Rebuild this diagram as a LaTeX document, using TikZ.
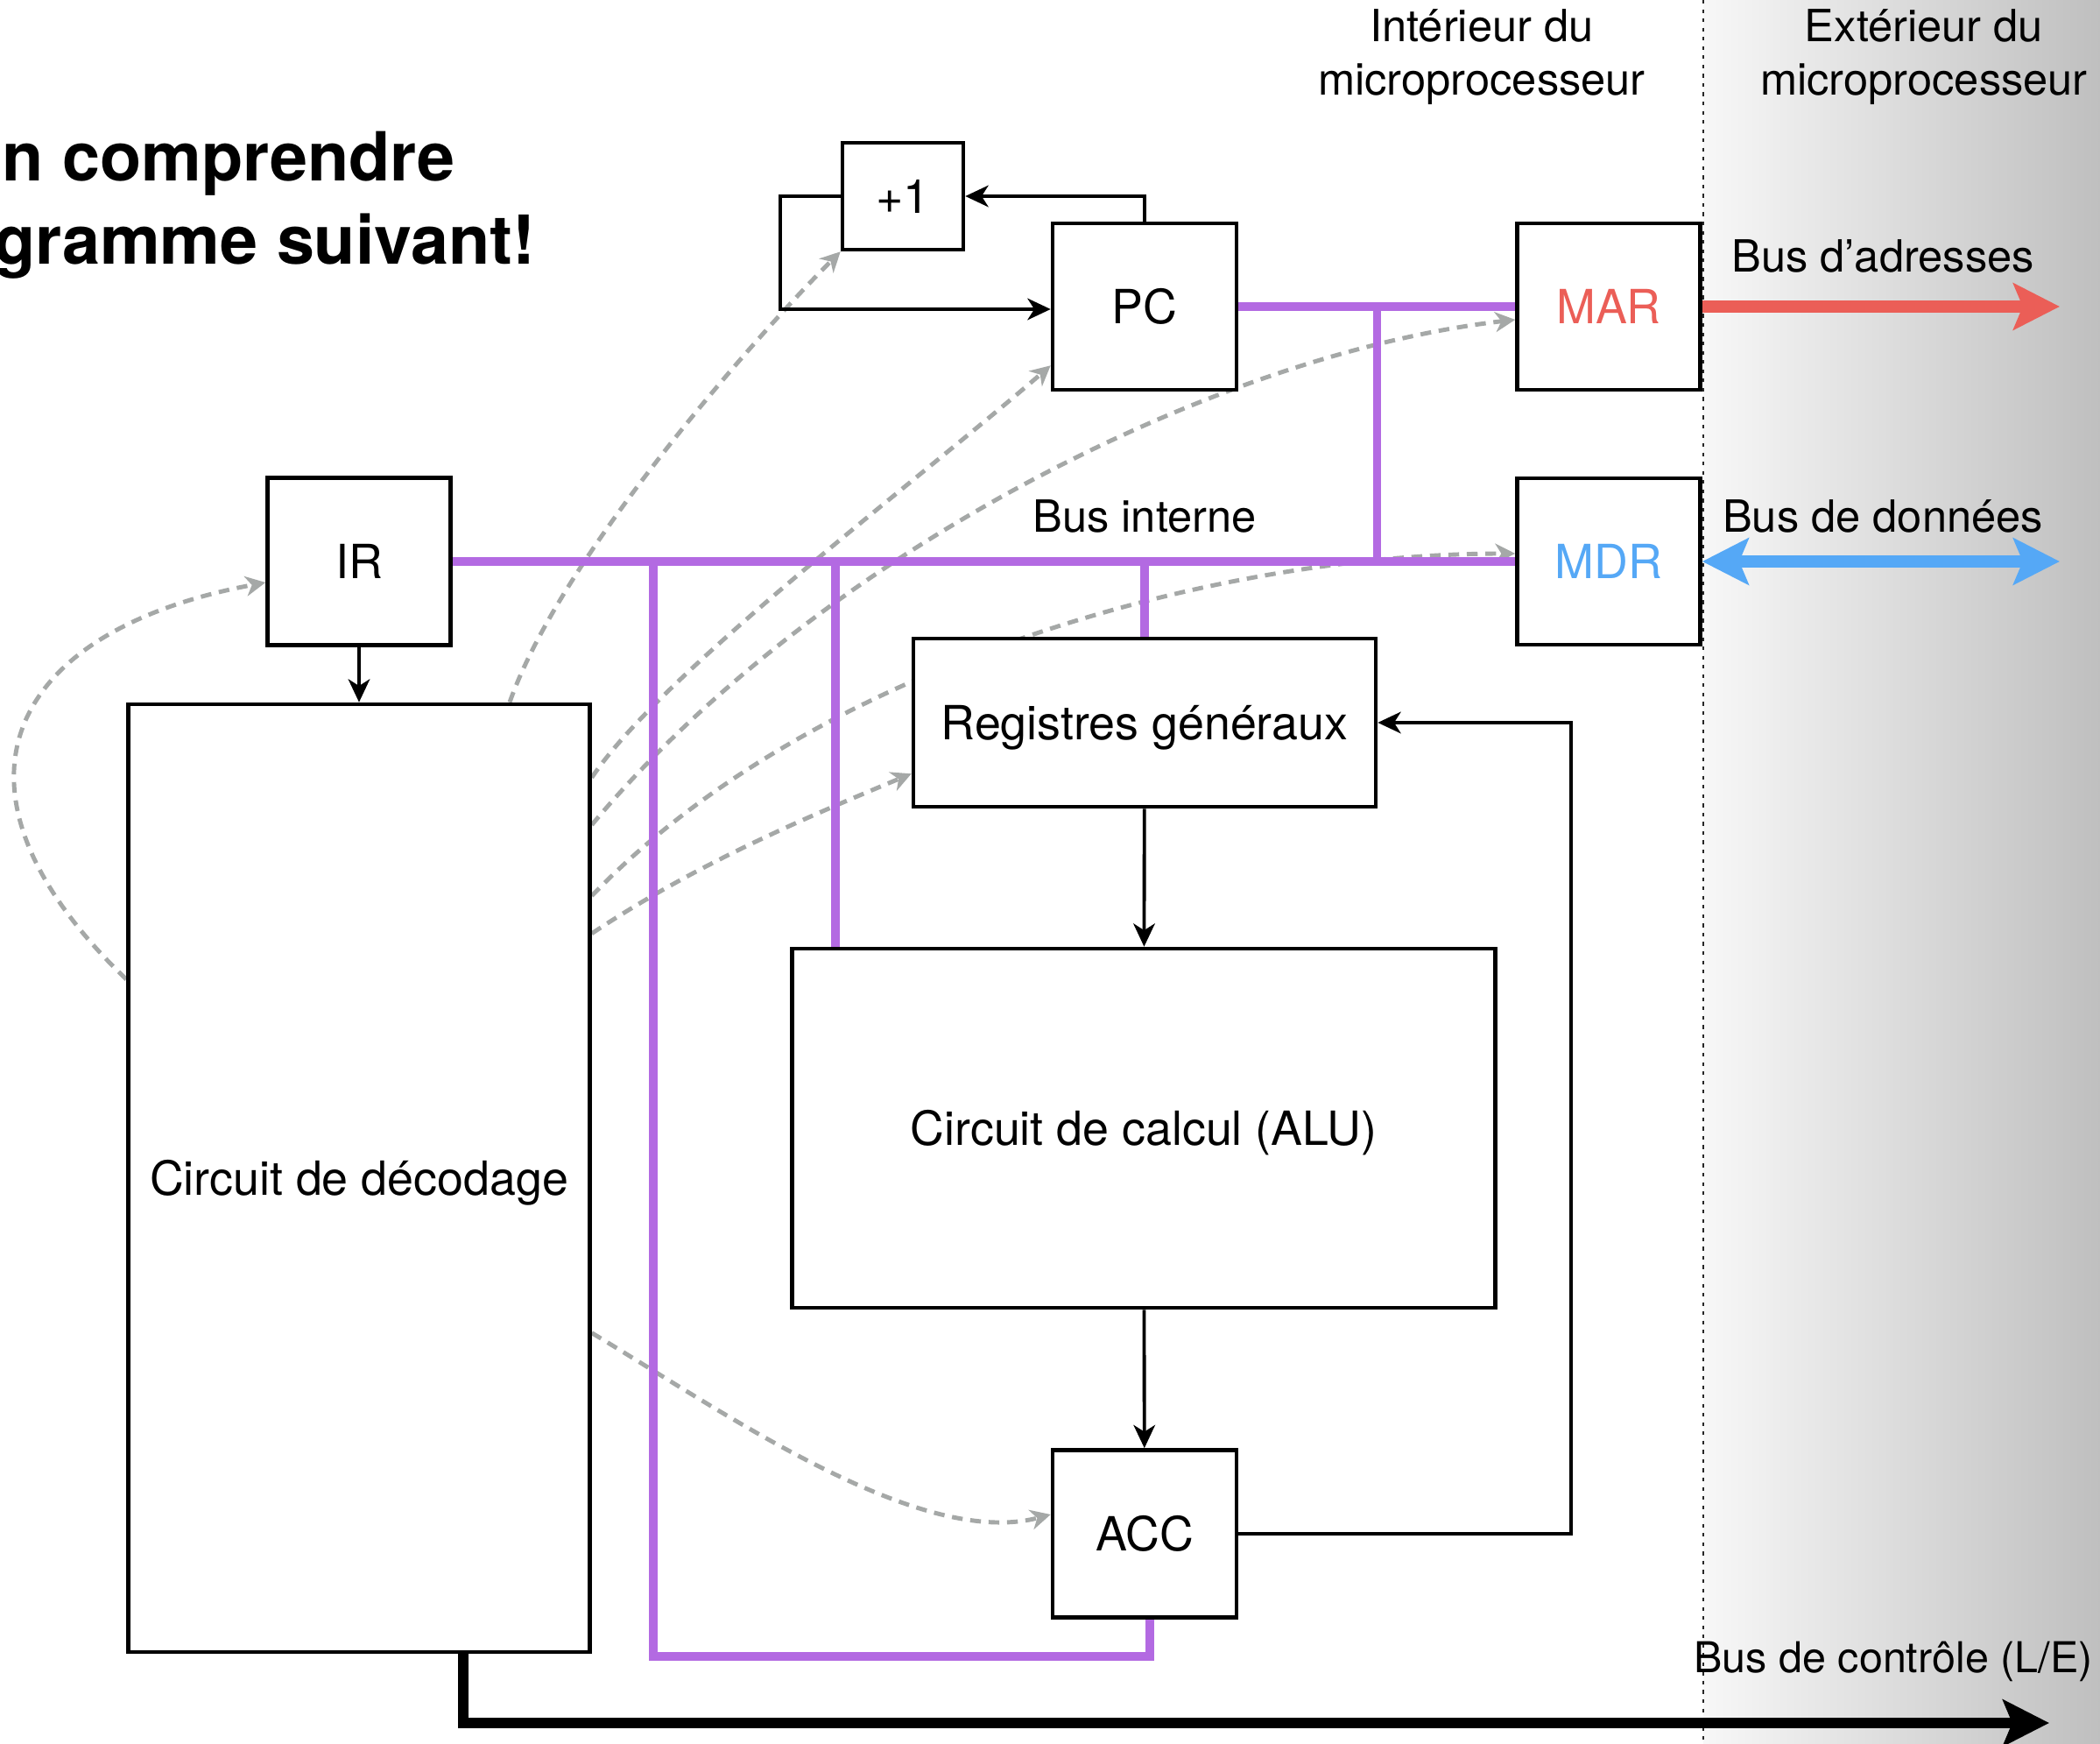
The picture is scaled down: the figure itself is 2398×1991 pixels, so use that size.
\documentclass[tikz,border=0pt]{standalone}
\usepackage{fontspec}
\setmainfont{TeX Gyre Heros}
\usetikzlibrary{calc}
\usetikzlibrary{arrows.meta, positioning}

\definecolor{busviolet}{HTML}{B36AE2}
\definecolor{addrred}{HTML}{EB5E57}
\definecolor{datablue}{HTML}{55A8F6}
\definecolor{signalgray}{HTML}{A5A8A7}

\pgfdeclarelayer{background}
\pgfdeclarelayer{wires}
\pgfsetlayers{background,wires,main}

\begin{document}
\begin{tikzpicture}[x=0.1mm,y=-0.1mm]
            \tikzstyle{box}   = [draw, line width=1.3pt, fill=white, inner sep=0pt, text height=11pt, text depth=0pt, font=\fontsize{15.3}{18}\selectfont]
            \tikzstyle{lbl}   = [inner sep=0pt, anchor=base, font=\fontsize{14.4}{17}\selectfont]
            \tikzstyle{title} = [inner sep=0pt, anchor=base east, font=\bfseries\fontsize{22}{27}\selectfont]
            \tikzstyle{bus}   = [busviolet, line width=2.7pt]
            \tikzstyle{arr}   = [line width=1.1pt, -{Stealth[length=7.5pt,width=7pt,inset=2.2pt]}]
            \tikzstyle{sig}   = [signalgray, line width=1.4pt, dash pattern=on 3.5pt off 2.5pt, -{Stealth[length=6.5pt,width=6.5pt,inset=2pt]}]
            \tikzstyle{divider} = [gray!30!black, line width=0.6pt, dash pattern=on 1.2pt off 1.8pt]

            \useasboundingbox (0,0) rectangle (2398,1991);

            % Background .........................
            \begin{pgfonlayer}{background}
            \fill[white] (0,0) rectangle (1945,1991);
            \shade[left color=gray!6, right color=gray!50] (1945,0) rectangle (2398,1991);
            \end{pgfonlayer}
            \draw[divider] (1945,0) -- (1945,1991);

            % Title (cut at the left) .........................
            \node[title] (title1) at (520,207) {n comprendre};
            \node[title] (title2) at (612,302) {gramme suivant!};

            % Boxes .........................
            \node[box, minimum width=1.38cm, minimum height=1.22cm] (plus) at (1031,224) {+1};
            \node[box, minimum width=2.1cm, minimum height=1.9cm] (pc) at (1307,350) {PC};
            \node[box, minimum width=2.09cm, minimum height=1.9cm, text=addrred] (mar) at (1837,350) {MAR};
            \node[box, minimum width=2.09cm, minimum height=1.9cm, text=datablue] (mdr) at (1837,641) {MDR};
            \node[box, minimum width=2.09cm, minimum height=1.91cm] (ir) at (410,641) {IR};
            \node[box, minimum width=5.27cm, minimum height=10.82cm] (dec) at (410,1345) {Circuit de décodage};
            \node[box, minimum width=5.28cm, minimum height=1.92cm] (reg) at (1307,825) {Registres généraux};
            \node[box, minimum width=8.03cm, minimum height=4.1cm] (alu) at (1306,1288) {Circuit de calcul (ALU)};
            \node[box, minimum width=2.1cm, minimum height=1.91cm] (acc) at (1307,1751) {ACC};

            % Control signals and internal bus .........................
            \begin{pgfonlayer}{wires}
            \draw[sig] ($(dec.north)+(172,0)$) .. controls +(60,-170) and +(-90,90) .. (plus.south west);
            \draw[sig] ($(dec.north east)+(0,86)$) .. controls +(80,-120) and +(-150,130) .. ($(pc.south west)+(0,-30)$);
            \draw[sig] ($(dec.north east)+(0,140)$) .. controls +(250,-300) and +(-350,40) .. ($(mar.west)+(0,15)$);
            \draw[sig] ($(dec.north east)+(0,221)$) .. controls +(250,-260) and +(-350,0) .. ($(mdr.west)+(0,-9)$);
            \draw[sig] ($(dec.north east)+(0,264)$) .. controls +(120,-80) and +(-120,50) .. ($(reg.south west)+(0,-40)$);
            \draw[sig] ($(dec.west)+(0,-227)$) .. controls +(-227,-218) and +(-296,55) .. ($(ir.west)+(0,24)$);
            \draw[sig] ($(dec.north east)+(0,720)$) .. controls +(150,90) and +(-150,40) .. ($(acc.west)+(0,-22)$);

            \coordinate (tapmar) at ($(pc.east)!0.5!(mar.west)$);
            \coordinate (tapacc) at (746,641);
            \coordinate (tapalu) at (954,641);
            \draw[bus] (ir.east) -- (mdr.west);
            \draw[bus] (pc.east) -- (mar.west);
            \draw[bus] (tapmar) -- (tapmar |- mdr.west);
            \draw[bus] (tapalu) -- (tapalu |- alu.north);
            \draw[bus] (reg.north |- ir.east) -- (reg.north);
            \draw[bus] (tapacc) |- ($(acc.south)+(6,42)$) -- ($(acc.south)+(6,0)$);
            \end{pgfonlayer}

            % Data paths .........................
            \draw[arr] (ir) -- (dec);
            \draw[arr] (reg) -- (alu);
            \draw[arr] (alu) -- (acc);
            \draw[arr] (acc.east) -- ++(380,0) |- (reg.east);
            \draw[arr] (pc.north) |- (plus.east);
            \draw[arr] (plus.west) -- ++(-69,0) |- ($(pc.west)+(0,3)$);

            % External buses .........................
            \coordinate (addrend) at (2352,350);
            \coordinate (dataend) at (2352,641);
            \coordinate (ctrlend) at (2340,1967);
            \draw[addrred, line width=3.8pt, -{Stealth[length=15pt,width=15pt,inset=3pt]}] (mar.east) -- (addrend);
            \draw[datablue, line width=3.8pt, {Stealth[length=15pt,width=15pt,inset=3pt]}-{Stealth[length=15pt,width=15pt,inset=3pt]}] (mdr.east) -- (dataend);
            \draw[line width=3.4pt, -{Stealth[length=15pt,width=15pt,inset=3pt]}] ($(dec.south)+(119,0)$) |- (ctrlend);

            % Labels .........................
            \node[lbl] (inside1) at (1692,48) {Intérieur du};
            \node[lbl] (inside2) at (1692,109) {microprocesseur};
            \node[lbl] (outside1) at (2197,48) {Extérieur du};
            \node[lbl] (outside2) at (2197,109) {microprocesseur};
            \node[lbl] (addrlbl) at (2150,311) {Bus d’adresses};
            \node[lbl] (datalbl) at (2150,608) {Bus de données};
            \node[lbl] (buslbl) at (1307,608) {Bus interne};
            \node[lbl, font=\fontsize{13.8}{16}\selectfont] (ctrllbl) at (2162,1910) {Bus de contrôle (L/E)};

        \end{tikzpicture}
\end{document}
